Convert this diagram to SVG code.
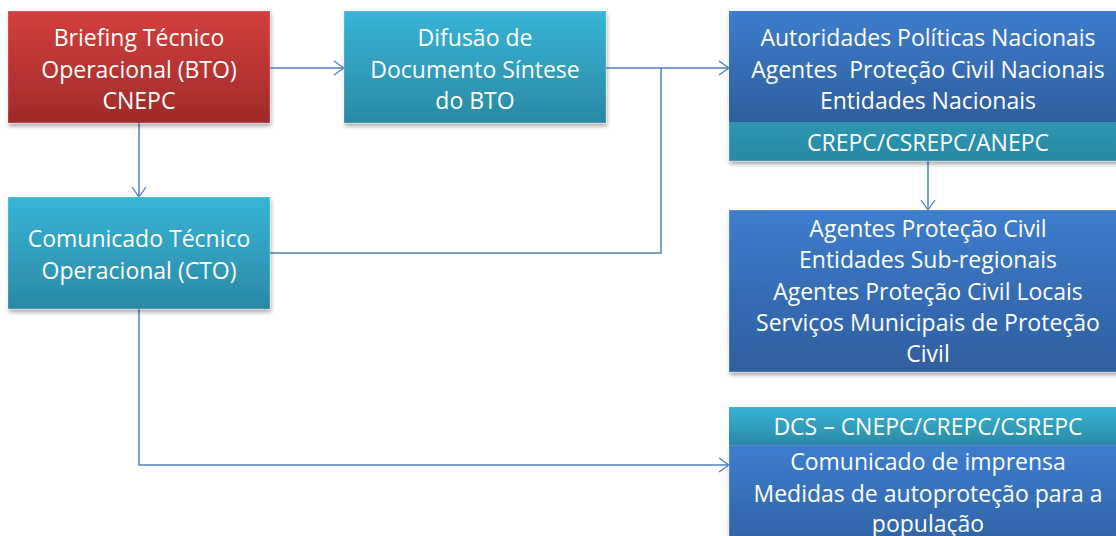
<svg xmlns="http://www.w3.org/2000/svg" width="1116" height="536" viewBox="0 0 1116 536">
<defs>
<linearGradient id="gRed" x1="0" y1="0" x2="0" y2="1"><stop offset="0" stop-color="#d33f3d"/><stop offset="1" stop-color="#a02a29"/></linearGradient>
<linearGradient id="gCyan" x1="0" y1="0" x2="0" y2="1"><stop offset="0" stop-color="#38b4d7"/><stop offset="1" stop-color="#2a89a4"/></linearGradient>
<linearGradient id="gBlue" x1="0" y1="0" x2="0" y2="1"><stop offset="0" stop-color="#3d7dcd"/><stop offset="1" stop-color="#2f5e9e"/></linearGradient>
<filter id="sh" x="-10%" y="-10%" width="120%" height="130%"><feDropShadow dx="1" dy="3" stdDeviation="2" flood-color="#000" flood-opacity="0.35"/></filter>
<marker id="arr" viewBox="0 0 12 16" refX="11" refY="8" markerWidth="12" markerHeight="16" markerUnits="userSpaceOnUse" orient="auto"><path d="M1 1 L11 8 L1 15" fill="none" stroke="#4a7ebf" stroke-width="1.3"/></marker>
</defs>
<style>
text{font-family:"Open Sans","Lato",sans-serif;font-size:23px;fill:#ffffff;text-anchor:middle;white-space:pre}
.c{fill:none;stroke:#4f81bd;stroke-width:1.5}
.b{stroke:#ffffff;stroke-opacity:0.25;stroke-width:1}
</style>
<rect width="1116" height="536" fill="#ffffff"/>
<g id="connectors">
<path class="c" d="M270 68 H344" marker-end="url(#arr)"/>
<path class="c" d="M139 123 V197" marker-end="url(#arr)"/>
<path class="c" d="M606 68 H729" marker-end="url(#arr)"/>
<path class="c" d="M270 253 H661 V68"/>
<path class="c" d="M928 161 V210" marker-end="url(#arr)"/>
<path class="c" d="M139 309 V465 H729" marker-end="url(#arr)"/>
</g>
<g id="bto">
<rect class="b" x="8" y="11" width="262" height="112" fill="url(#gRed)" filter="url(#sh)"/>
<text x="139" y="46">Briefing Técnico</text>
<text x="139" y="78">Operacional (BTO)</text>
<text x="139" y="109">CNEPC</text>
</g>
<g id="difusao">
<rect class="b" x="344" y="11" width="262" height="112" fill="url(#gCyan)" filter="url(#sh)"/>
<text x="475" y="46">Difusão de</text>
<text x="475" y="78">Documento Síntese</text>
<text x="475" y="109">do BTO</text>
</g>
<g id="nacionais">
<rect class="b" x="729" y="11" width="400" height="150" fill="url(#gCyan)" filter="url(#sh)"/>
<rect x="729" y="11" width="400" height="111" fill="url(#gBlue)"/>
<text x="928" y="46">Autoridades Políticas Nacionais</text>
<text x="928" y="78">Agentes  Proteção Civil Nacionais</text>
<text x="928" y="109">Entidades Nacionais</text>
<text x="928" y="151">CREPC/CSREPC/ANEPC</text>
</g>
<g id="cto">
<rect class="b" x="8" y="197" width="262" height="112" fill="url(#gCyan)" filter="url(#sh)"/>
<text x="139" y="247">Comunicado Técnico</text>
<text x="139" y="279">Operacional (CTO)</text>
</g>
<g id="locais">
<rect class="b" x="729" y="210" width="400" height="162" fill="url(#gBlue)" filter="url(#sh)"/>
<text x="928" y="237">Agentes Proteção Civil</text>
<text x="928" y="268">Entidades Sub-regionais</text>
<text x="928" y="300">Agentes Proteção Civil Locais</text>
<text x="928" y="331">Serviços Municipais de Proteção</text>
<text x="928" y="362">Civil</text>
</g>
<g id="imprensa">
<rect class="b" x="729" y="445" width="400" height="120" fill="url(#gBlue)" filter="url(#sh)"/>
<rect x="729" y="407" width="400" height="38" fill="url(#gCyan)"/>
<text x="928" y="435">DCS – CNEPC/CREPC/CSREPC</text>
<text x="928" y="470">Comunicado de imprensa</text>
<text x="928" y="502">Medidas de autoproteção para a</text>
<text x="928" y="532">população</text>
</g>
</svg>
